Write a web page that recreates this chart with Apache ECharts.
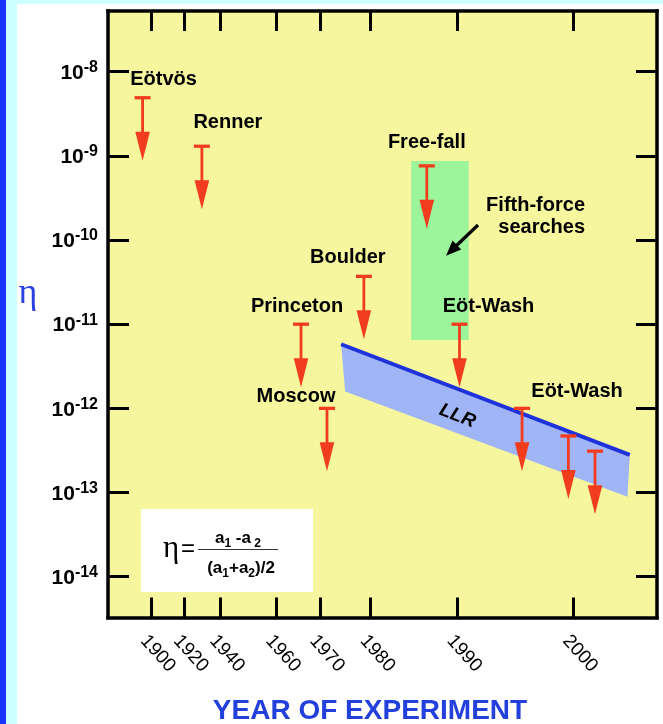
<!DOCTYPE html>
<html><head><meta charset="utf-8">
<script src="https://cdn.jsdelivr.net/npm/echarts@6.0.0/dist/echarts.min.js"></script>
<style>html,body{margin:0;padding:0;background:#fff;}#c{width:663px;height:724px;}</style>
</head><body><div id="c"></div>
<script>
// ---------- data ----------
const tickYears = [1900, 1920, 1940, 1960, 1970, 1980, 1990, 2000];
// the reference's year axis is not linear: axis-scale value of each tick year (0..100 across the frame)
const tickSlots = [7.8, 13.8, 20.4, 30.6, 38.6, 47.8, 63.6, 84.7];
const decadeExponents = [-14, -13, -12, -11, -10, -9, -8];

const experiments = ['Eötvös', 'Renner', 'Princeton', 'Moscow', 'Boulder', 'Free-fall', 'Eöt-Wash', 'Eöt-Wash', 'Eöt-Wash', 'Eöt-Wash'];
const expYears   = [1895, 1930, 1965.7, 1971.4, 1978.7, 1986.5, 1990.2, 1995.6, 1999.6, 2001.9];
const expLimits  = [4.9e-9, 1.3e-9, 1.0e-11, 1.0e-12, 3.7e-11, 7.6e-10, 1.0e-11, 1.0e-12, 4.7e-13, 3.1e-13];
const expShowName = [true, true, true, true, true, true, true, true, false, false];

const llrTopYears = [1974.2, 2004.9];
const llrTopLimits = [5.77e-12, 2.79e-13];
const llrBottomYears = [1975.0, 2004.7];
const llrBottomLimits = [1.58e-12, 8.93e-14];

const fifthForceYears = [1984.7, 1991.0];
const fifthForceLimits = [6.5e-12, 8.7e-10];

// ---------- styles / layout ----------
const SANS = 'Liberation Sans, Arial, Helvetica, sans-serif';
const SERIF = 'Liberation Serif, Times New Roman, serif';
const RED = '#f23c1e';
const ARROW_LEN = 63, HEAD_LEN = 29, HEAD_HALF = 7.3;
// label offset (px) from the cap centre, one per experiment
const labelOffsets = [[21, -18], [26, -24], [-4, -18], [-31, -12], [-16, -19], [0, -23], [29, -18], [55, -17], [0, 0], [0, 0]];

function warp(yr) {
  const n = tickYears.length;
  let i = 0;
  if (yr >= tickYears[n - 1]) i = n - 2;
  else if (yr > tickYears[0]) { while (yr > tickYears[i + 1]) i++; }
  const t = (yr - tickYears[i]) / (tickYears[i + 1] - tickYears[i]);
  return tickSlots[i] + t * (tickSlots[i + 1] - tickSlots[i]);
}
function yearLabel(v) {
  for (let i = 0; i < tickSlots.length; i++) if (Math.abs(tickSlots[i] - v) < 1e-6) return String(tickYears[i]);
  return '';
}
const lg = Math.log10;

const axisLineStyle = { color: '#000', width: 3.5, cap: 'square' };
function xAx(pos, labels) {
  return {
    type: 'value', position: pos, min: 0, max: 100,
    axisLine: { show: true, onZero: false, lineStyle: axisLineStyle },
    axisTick: { show: true, inside: true, length: 20, lineStyle: { color: '#000', width: 3 }, customValues: tickSlots },
    axisLabel: { show: labels, customValues: tickSlots, rotate: -48, margin: 14, verticalAlign: 'top', color: '#000', fontSize: 19, fontFamily: SANS, formatter: yearLabel },
    splitLine: { show: false }
  };
}
function yAx(pos, labels) {
  return {
    type: 'value', position: pos, min: -14.485, max: -7.28,
    axisLine: { show: true, onZero: false, lineStyle: axisLineStyle },
    axisTick: { show: true, inside: true, length: 21, lineStyle: { color: '#000', width: 3 }, customValues: decadeExponents },
    axisLabel: {
      show: labels, customValues: decadeExponents, margin: 10, color: '#000',
      formatter: v => '{b|10}{s|' + v + '}',
      rich: {
        b: { fontSize: 21, fontWeight: 'bold', fontFamily: SANS, color: '#000', lineHeight: 24, verticalAlign: 'bottom' },
        s: { fontSize: 16, fontWeight: 'bold', fontFamily: SANS, color: '#000', lineHeight: 16, verticalAlign: 'top' }
      }
    },
    splitLine: { show: false }
  };
}

const arrowData = expYears.map((y, i) => [warp(y), lg(expLimits[i])]);

const option = {
  animation: false,
  backgroundColor: '#fff',
  grid: { left: 108, right: 6, top: 11, bottom: 106.5, show: true, backgroundColor: '#f6f69e', borderWidth: 0, containLabel: false, outerBoundsMode: 'none' },
  xAxis: [xAx('bottom', true), xAx('top', false)],
  yAxis: [yAx('left', true), yAx('right', false)],
  series: [
    {
      type: 'custom', name: 'Fifth-force searches', z: 1, clip: false,
      encode: { x: [0, 2], y: [1, 3] },
      data: [[warp(fifthForceYears[0]), lg(fifthForceLimits[1]), warp(fifthForceYears[1]), lg(fifthForceLimits[0])]],
      renderItem: (params, api) => {
        const a = api.coord([api.value(0), api.value(1)]);
        const b = api.coord([api.value(2), api.value(3)]);
        return { type: 'rect', shape: { x: a[0], y: a[1], width: b[0] - a[0], height: b[1] - a[1] }, style: { fill: '#9cf49b' } };
      }
    },
    {
      type: 'custom', name: 'LLR', z: 2, clip: false,
      encode: { x: [0, 2, 4, 6], y: [1, 3, 5, 7] },
      data: [[warp(llrTopYears[0]), lg(llrTopLimits[0]), warp(llrTopYears[1]), lg(llrTopLimits[1]),
              warp(llrBottomYears[1]), lg(llrBottomLimits[1]), warp(llrBottomYears[0]), lg(llrBottomLimits[0])]],
      renderItem: (params, api) => {
        const pts = [0, 1, 2, 3].map(k => api.coord([api.value(2 * k), api.value(2 * k + 1)]));
        const angle = Math.atan2(pts[1][1] - pts[0][1], pts[1][0] - pts[0][0]);
        const ml = [(pts[0][0] + pts[3][0]) / 2, (pts[0][1] + pts[3][1]) / 2];
        const mr = [(pts[1][0] + pts[2][0]) / 2, (pts[1][1] + pts[2][1]) / 2];
        const t = 0.4;
        const cx = ml[0] + t * (mr[0] - ml[0]), cy = ml[1] + t * (mr[1] - ml[1]) + 5;
        return {
          type: 'group', children: [
            { type: 'polygon', shape: { points: pts }, style: { fill: '#a0b5f6' } },
            { type: 'text', x: cx, y: cy, rotation: -angle, style: { text: 'LLR', fontSize: 19, fontWeight: 'bold', fontStyle: 'italic', fontFamily: SANS, fill: '#000', align: 'center', verticalAlign: 'middle' } }
          ]
        };
      }
    },
    {
      type: 'line', name: 'LLR limit', z: 3, symbol: 'none', silent: true,
      data: llrTopYears.map((y, i) => [warp(y), lg(llrTopLimits[i])]),
      lineStyle: { color: '#1e32dc', width: 4 }
    },
    {
      type: 'custom', name: 'Experiments', z: 4, clip: false,
      encode: { x: 0, y: 1 },
      data: arrowData,
      renderItem: (params, api) => {
        const i = params.dataIndex;
        const p = api.coord([api.value(0), api.value(1)]);
        const x = p[0], y = p[1];
        const kids = [
          { type: 'rect', shape: { x: x - 8, y: y - 1.6, width: 16, height: 3.3 }, style: { fill: RED } },
          { type: 'rect', shape: { x: x - 1.4, y: y, width: 2.8, height: ARROW_LEN - HEAD_LEN + 1 }, style: { fill: RED } },
          { type: 'polygon', shape: { points: [[x - HEAD_HALF, y + ARROW_LEN - HEAD_LEN], [x + HEAD_HALF, y + ARROW_LEN - HEAD_LEN], [x, y + ARROW_LEN]] }, style: { fill: RED } }
        ];
        if (expShowName[i]) {
          kids.push({ type: 'text', x: x + labelOffsets[i][0], y: y + labelOffsets[i][1],
            style: { text: experiments[i], fontSize: 20, fontWeight: 'bold', fontFamily: SANS, fill: '#000', align: 'center', verticalAlign: 'middle' } });
        }
        return { type: 'group', children: kids };
      }
    }
  ],
  graphic: [
    { type: 'rect', z: 0, shape: { x: 6, y: 0, width: 657, height: 3.7 }, style: { fill: '#ccffff' } },
    { type: 'rect', z: 0, shape: { x: 6, y: 0, width: 11, height: 724 }, style: { fill: '#ccffff' } },
    { type: 'rect', z: 0, shape: { x: 0, y: 0, width: 6, height: 724 }, style: { fill: '#1933ff' } },
    { type: 'text', z: 10, x: 28, y: 294, style: { text: 'η', fontSize: 36, fontFamily: SERIF, fill: '#2a40e0', align: 'center', verticalAlign: 'middle' } },
    { type: 'text', z: 10, x: 370, y: 711, style: { text: 'YEAR OF EXPERIMENT', fontSize: 28, fontWeight: 'bold', fontFamily: SANS, fill: '#2340dc', align: 'center', verticalAlign: 'middle' } },
    // formula box
    { type: 'rect', z: 100, shape: { x: 141, y: 509, width: 172, height: 83 }, style: { fill: '#ffffff' } },
    { type: 'text', z: 101, x: 171, y: 549, style: { text: 'η', fontSize: 31, fontFamily: SERIF, fill: '#000', align: 'center', verticalAlign: 'middle' } },
    { type: 'text', z: 101, x: 188, y: 549, style: { text: '=', fontSize: 24, fontFamily: SANS, fill: '#000', align: 'center', verticalAlign: 'middle' } },
    { type: 'line', z: 101, shape: { x1: 198, y1: 549.5, x2: 278, y2: 549.5 }, style: { stroke: '#333', lineWidth: 1 } },
    { type: 'text', z: 101, x: 238, y: 538, style: { text: '{t|a}{u|1}{t| -a}{u| 2}', align: 'center', verticalAlign: 'middle',
        rich: { t: { fontSize: 17, fontWeight: 'bold', fontFamily: SANS, fill: '#000', lineHeight: 20 }, u: { fontSize: 12, fontWeight: 'bold', fontFamily: SANS, fill: '#000', lineHeight: 12, padding: [12, 0, 0, 0] } } } },
    { type: 'text', z: 101, x: 241, y: 568, style: { text: '{t|(a}{u|1}{t|+a}{u|2}{t|)/2}', align: 'center', verticalAlign: 'middle',
        rich: { t: { fontSize: 17, fontWeight: 'bold', fontFamily: SANS, fill: '#000', lineHeight: 20 }, u: { fontSize: 12, fontWeight: 'bold', fontFamily: SANS, fill: '#000', lineHeight: 12, padding: [12, 0, 0, 0] } } } },
    // fifth-force annotation
    { type: 'text', z: 50, x: 585, y: 205, style: { text: 'Fifth-force', fontSize: 20, fontWeight: 'bold', fontFamily: SANS, fill: '#000', align: 'right', verticalAlign: 'middle' } },
    { type: 'text', z: 50, x: 585, y: 227, style: { text: 'searches', fontSize: 20, fontWeight: 'bold', fontFamily: SANS, fill: '#000', align: 'right', verticalAlign: 'middle' } },
    { type: 'line', z: 50, shape: { x1: 478, y1: 225, x2: 456, y2: 246 }, style: { stroke: '#000', lineWidth: 3.2 } },
    { type: 'polygon', z: 50, shape: { points: [[446, 255.7], [461.2, 249.6], [452.6, 240.6]] }, style: { fill: '#000' } }
  ]
};

const chart = echarts.init(document.getElementById('c'), null, { renderer: 'canvas' });
chart.setOption(option);
</script>
</body></html>
